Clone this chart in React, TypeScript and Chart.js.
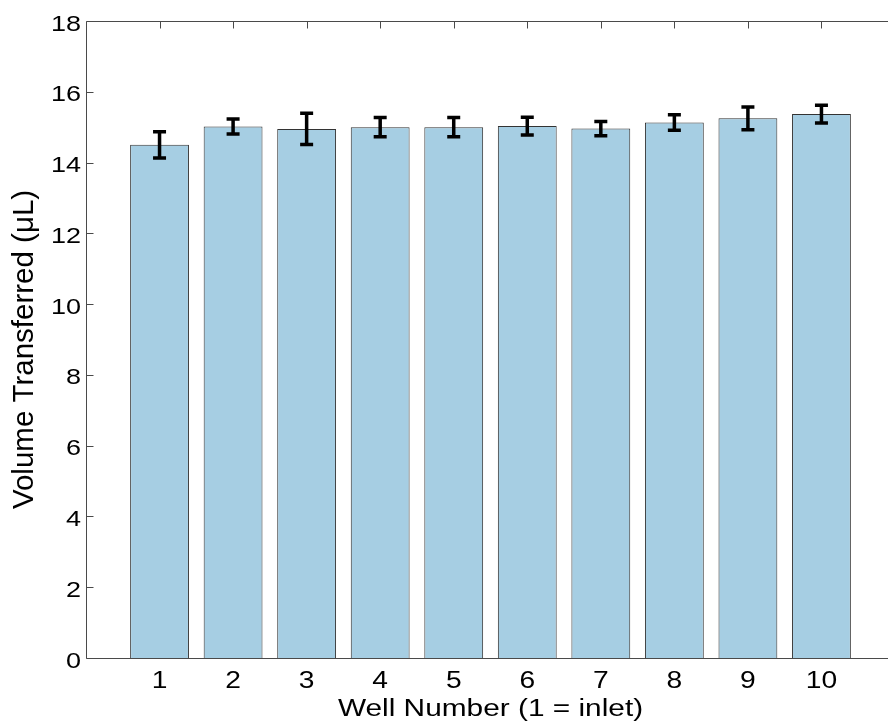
import React, { useEffect, useRef } from "react";
import { Chart, registerables } from "chart.js";

Chart.register(...registerables);

const wells = ["1", "2", "3", "4", "5", "6", "7", "8", "9", "10"];
const volumes = [14.5, 15.02, 14.95, 15.0, 15.0, 15.03, 14.96, 15.13, 15.25, 15.37];
const errors = [0.37, 0.21, 0.44, 0.27, 0.27, 0.25, 0.2, 0.22, 0.32, 0.25];
const yMin = 0;
const yMax = 18;
const yStep = 2;
const xTitle = "Well Number (1 = inlet)";
const yTitle = "Volume Transferred (μL)";

const FONT = "'Liberation Sans', Arial, Helvetica, sans-serif";
const AXIS_COLOR = "#4a4a4a";
const CANVAS_W = 900;
const CANVAS_H = 725;

function stretchedText(ctx: any, text: string, x: number, y: number, sx: number, align: string) {
  ctx.save();
  ctx.translate(x, y);
  ctx.scale(sx, 1);
  ctx.textAlign = align;
  ctx.fillText(text, 0, 0);
  ctx.restore();
}

const boxPlugin = {
  id: "matlabBox",
  afterDatasetsDraw(chart: any) {
    const { ctx, chartArea, scales } = chart;
    const { left, right, top, bottom } = chartArea;
    const x = scales.x;
    const y = scales.y;
    ctx.save();
    // error bars
    const meta = chart.getDatasetMeta(0);
    ctx.strokeStyle = "#000";
    ctx.lineWidth = 3.5;
    ctx.lineCap = "butt";
    meta.data.forEach((bar: any, i: number) => {
      const cx = bar.x;
      const yHi = y.getPixelForValue(volumes[i] + errors[i]);
      const yLo = y.getPixelForValue(volumes[i] - errors[i]);
      const cap = 6.5;
      ctx.beginPath();
      ctx.moveTo(cx, yHi);
      ctx.lineTo(cx, yLo);
      ctx.moveTo(cx - cap, yHi);
      ctx.lineTo(cx + cap, yHi);
      ctx.moveTo(cx - cap, yLo);
      ctx.lineTo(cx + cap, yLo);
      ctx.stroke();
    });
    // axes box
    ctx.strokeStyle = AXIS_COLOR;
    ctx.lineWidth = 1;
    const L = Math.round(left) + 0.5;
    const R = Math.round(right) + 0.5;
    const T = Math.round(top) + 0.5;
    const B = Math.round(bottom) + 0.5;
    ctx.beginPath();
    ctx.moveTo(L, T);
    ctx.lineTo(R, T);
    ctx.lineTo(R, B);
    ctx.lineTo(L, B);
    ctx.closePath();
    ctx.stroke();
    const tl = 7;
    ctx.beginPath();
    y.ticks.forEach((t: any) => {
      const py = Math.round(y.getPixelForValue(t.value)) + 0.5;
      ctx.moveTo(L, py);
      ctx.lineTo(L + tl, py);
      ctx.moveTo(R, py);
      ctx.lineTo(R - tl, py);
    });
    wells.forEach((_, i) => {
      const px = Math.round(x.getPixelForValue(i + 1)) + 0.5;
      ctx.moveTo(px, T);
      ctx.lineTo(px, T + tl);
    });
    ctx.stroke();

    // tick labels
    ctx.fillStyle = "#000";
    ctx.textBaseline = "alphabetic";
    ctx.font = `22.5px ${FONT}`;
    y.ticks.forEach((t: any) => {
      const py = y.getPixelForValue(t.value);
      stretchedText(ctx, String(t.value), left - 5, py + 9.5, 1.2, "right");
    });
    ctx.font = `23.5px ${FONT}`;
    wells.forEach((w, i) => {
      const px = x.getPixelForValue(i + 1);
      stretchedText(ctx, w, px, bottom + 30, 1.2, "center");
    });
    // titles
    ctx.font = `23.3px ${FONT}`;
    stretchedText(ctx, xTitle, (left + right) / 2, 716, 1.28, "center");
    ctx.save();
    ctx.font = `29.5px ${FONT}`;
    ctx.translate(33.3, (top + bottom) / 2 + 10);
    ctx.rotate(-Math.PI / 2);
    ctx.textAlign = "center";
    ctx.fillText(yTitle, 0, 0);
    ctx.restore();

    ctx.restore();
  },
};

export default function App() {
  const ref = useRef<HTMLCanvasElement | null>(null);
  useEffect(() => {
    if (!ref.current) return;
    const chart = new Chart(ref.current, {
      type: "bar",
      data: {
        datasets: [
          {
            data: volumes.map((v, i) => ({ x: i + 1, y: v })),
            backgroundColor: "#a6cee3",
            borderColor: "#333333",
            borderWidth: 1,
            barPercentage: 0.8,
            categoryPercentage: 1.0,
          },
        ],
      },
      options: {
        animation: false,
        responsive: false,
        maintainAspectRatio: false,
        layout: { padding: { left: 0, right: CANVAS_W - 895, top: 21, bottom: 0 } },
        plugins: { legend: { display: false }, tooltip: { enabled: false } },
        scales: {
          x: {
            type: "linear",
            min: 0,
            max: 11,
            offset: false,
            grid: { display: false, drawTicks: false },
            border: { display: false },
            ticks: { display: false, stepSize: 1 },
            title: { display: false },
            afterFit(scale: any) {
              scale.height = CANVAS_H - 658;
            },
          },
          y: {
            min: yMin,
            max: yMax,
            grid: { display: false, drawTicks: false },
            border: { display: false },
            ticks: { display: false, stepSize: yStep },
            title: { display: false },
            afterFit(scale: any) {
              scale.width = 86;
            },
          },
        },
      },
      plugins: [boxPlugin],
    });
    return () => chart.destroy();
  }, []);
  return (
    <div style={{ position: "fixed", left: 0, top: 0, width: 888, height: 725, overflow: "hidden", background: "#fff" }}>
      <canvas ref={ref} width={CANVAS_W} height={CANVAS_H} style={{ width: CANVAS_W, height: CANVAS_H, display: "block" }} />
    </div>
  );
}
